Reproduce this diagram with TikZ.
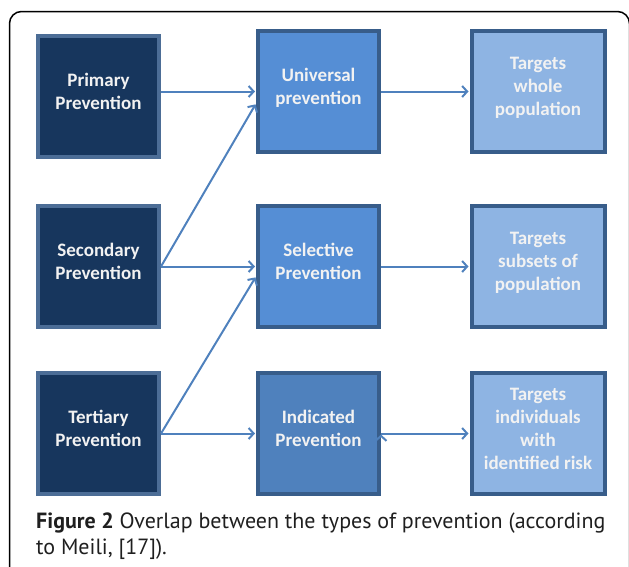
\documentclass[tikz,border=0pt]{standalone}
\usepackage{fontspec}
\setmainfont{Carlito}
\newfontfamily\capfont{PT Sans}
\usepackage{tikz}
\usetikzlibrary{arrows.meta,positioning}

\definecolor{navy}{HTML}{17365D}
\definecolor{midblue}{HTML}{558ED5}
\definecolor{dimblue}{HTML}{4F81BD}
\definecolor{paleblue}{HTML}{8EB4E3}
\definecolor{rimblue}{HTML}{385D8A}
\definecolor{arrowblue}{HTML}{4F81BD}
\definecolor{boxtext}{HTML}{F2F2F2}

\begin{document}
\begin{tikzpicture}[x=1pt, y=-1pt, shorten >=1pt, >={Straight Barb[length=5pt,width=11pt,line width=2pt]},
   box/.style={rectangle, draw=rimblue, line width=4pt, minimum width=121pt, minimum height=121pt,
      align=center, text=boxtext, text depth=10pt, font=\bfseries\fontsize{19}{23}\selectfont},
   levelbox/.style={box, fill=navy, draw=rimblue!90!white},
   typebox/.style={box, fill=midblue},
   targetbox/.style={box, fill=paleblue, minimum width=133pt},
   link/.style={->, draw=arrowblue, line width=2pt}]
   \useasboundingbox (0,0) rectangle (629,566);
   \clip (0,0) rectangle (629,566);
   \draw[line width=1.5pt, rounded corners=12pt] (9.5,11.5) rectangle (629.5,620);

   % kinds of prevention
   \node[levelbox] (primary) at (98.5,96.5) {Primary\\Prevention};
   \node[levelbox] (secondary) at (98.5,266.5) {Secondary\\Prevention};
   \node[levelbox] (tertiary) at (98.5,433.5) {Tertiary\\Prevention};

   \node[typebox] (universal) at (318.5,91.5) {Universal\\prevention};
   \node[typebox] (selective) at (318.5,266.5) {Selective\\Prevention};
   \node[typebox, fill=dimblue] (indicated) at (318.5,433.5) {Indicated\\Prevention};

   \node[targetbox] (whole) at (538,91.5) {Targets\\whole\\population};
   \node[targetbox] (subsets) at (538,266.5) {Targets\\subsets of\\population};
   \node[targetbox] (risk) at (538,433.5) {Targets\\individuals\\with\\identified risk};

   \path[link]
    (primary.east |- universal.west) edge (universal.west)
    (secondary.east) edge ([yshift=-12pt]universal.west)
    (secondary.east) edge (selective.west)
    (tertiary.east) edge ([yshift=-10pt]selective.west)
    (tertiary.east) edge (indicated.west)
    (universal.east) edge (whole.west)
    (selective.east) edge (subsets.west)
    (indicated.east) edge (risk.west);

   \node[anchor=north west, inner sep=0pt, align=left, text=black!88,
      font=\capfont\fontsize{22}{26}\selectfont] (caption) at (36,513)
      {\textbf{Figure 2} Overlap between the types of prevention (according\\to Meili, [17]).};
\end{tikzpicture}
\end{document}
